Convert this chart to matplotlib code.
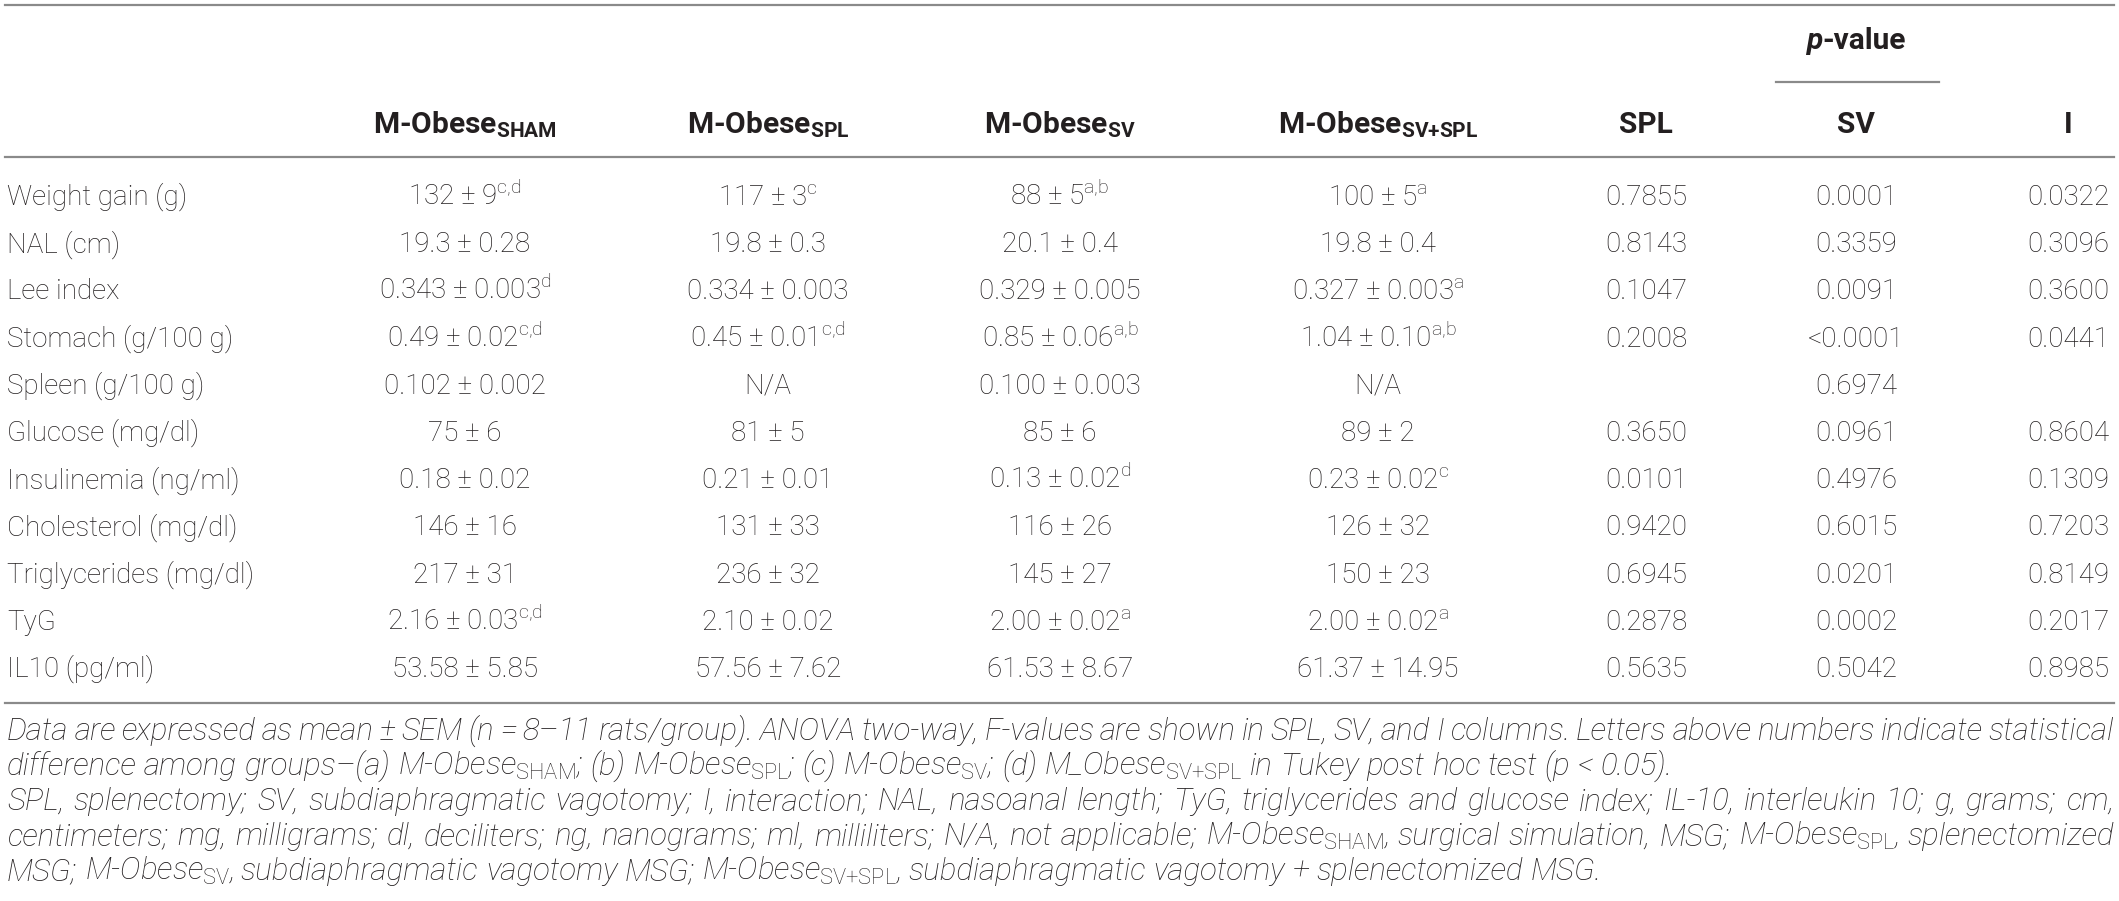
import matplotlib
matplotlib.use("Agg")
import matplotlib.pyplot as plt

FONT = 'Roboto'
plt.rcParams['font.family'] = [FONT, 'Liberation Sans', 'DejaVu Sans']
plt.rcParams['mathtext.fontset'] = 'custom'
plt.rcParams['mathtext.rm'] = FONT + ':light'
plt.rcParams['mathtext.it'] = FONT + ':italic:light'
plt.rcParams['mathtext.bf'] = FONT + ':bold'

# ---- table data ----
row_labels = ["Weight gain (g)", "NAL (cm)", "Lee index", "Stomach (g/100 g)",
              "Spleen (g/100 g)", "Glucose (mg/dl)", "Insulinemia (ng/ml)",
              "Cholesterol (mg/dl)", "Triglycerides (mg/dl)", "TyG", "IL10 (pg/ml)"]
sham = ["132 ± 9^c,d", "19.3 ± 0.28", "0.343 ± 0.003^d", "0.49 ± 0.02^c,d", "0.102 ± 0.002",
        "75 ± 6", "0.18 ± 0.02", "146 ± 16", "217 ± 31", "2.16 ± 0.03^c,d", "53.58 ± 5.85"]
spl = ["117 ± 3^c", "19.8 ± 0.3", "0.334 ± 0.003", "0.45 ± 0.01^c,d", "N/A",
       "81 ± 5", "0.21 ± 0.01", "131 ± 33", "236 ± 32", "2.10 ± 0.02", "57.56 ± 7.62"]
sv = ["88 ± 5^a,b", "20.1 ± 0.4", "0.329 ± 0.005", "0.85 ± 0.06^a,b", "0.100 ± 0.003",
      "85 ± 6", "0.13 ± 0.02^d", "116 ± 26", "145 ± 27", "2.00 ± 0.02^a", "61.53 ± 8.67"]
sv_spl = ["100 ± 5^a", "19.8 ± 0.4", "0.327 ± 0.003^a", "1.04 ± 0.10^a,b", "N/A",
          "89 ± 2", "0.23 ± 0.02^c", "126 ± 32", "150 ± 23", "2.00 ± 0.02^a", "61.37 ± 14.95"]
p_spl = ["0.7855", "0.8143", "0.1047", "0.2008", "", "0.3650", "0.0101", "0.9420",
         "0.6945", "0.2878", "0.5635"]
p_sv = ["0.0001", "0.3359", "0.0091", "<0.0001", "0.6974", "0.0961", "0.4976", "0.6015",
        "0.0201", "0.0002", "0.5042"]
p_i = ["0.0322", "0.3096", "0.3600", "0.0441", "", "0.8604", "0.1309", "0.7203",
       "0.8149", "0.2017", "0.8985"]

headers = ["M-Obese_SHAM", "M-Obese_SPL", "M-Obese_SV", "M-Obese_SV+SPL", "SPL", "SV", "I"]
columns = [sham, spl, sv, sv_spl, p_spl, p_sv, p_i]

notes = [
    "Data are expressed as mean ± SEM (n = 8–11 rats/group). ANOVA two-way, F-values are shown "
    "in SPL, SV, and I columns. Letters above numbers indicate statistical",
    "difference among groups–(a) M-Obese_SHAM; (b) M-Obese_SPL; (c) M-Obese_SV; "
    "(d) M_Obese_SV+SPL in Tukey post hoc test (p < 0.05).",
    "SPL, splenectomy; SV, subdiaphragmatic vagotomy; I, interaction; NAL, nasoanal length; "
    "TyG, triglycerides and glucose index; IL-10, interleukin 10; g, grams; cm,",
    "centimeters; mg, milligrams; dl, deciliters; ng, nanograms; ml, milliliters; N/A, not "
    "applicable; M-Obese_SHAM, surgical simulation, MSG; M-Obese_SPL, splenectomized",
    "MSG; M-Obese_SV, subdiaphragmatic vagotomy MSG; M-Obese_SV+SPL, subdiaphragmatic "
    "vagotomy + splenectomized MSG.",
]
justified = [True, False, True, True, False]

INK = '#231f20'
RULE = '#8a8a8a'
FS = 20
FS_HEAD = 21.5
FS_NOTE = 22.5


def sup(s):
    # "132 ± 9^c,d" -> superscript letters
    if '^' in s:
        a, b = s.split('^')
        return a + r'$^{\rm ' + b.replace(',', '{,}') + '}$'
    return s


def sub(s, bold=False):
    # "M-Obese_SHAM" -> subscript group name
    if 'Obese_' in s:
        a, b = s.split('Obese_', 1)
        tail = ''
        while b and not b[-1].isalnum():
            tail = b[-1] + tail
            b = b[:-1]
        b = b.replace('+', '{+}')
        cmd = r'\mathbf' if bold else r'\mathrm'
        return a + 'Obese$_{' + cmd + '{' + b + '}}$' + tail
    return s


fig = plt.figure(figsize=(21.19, 9.01), dpi=100)
ax = fig.add_axes([0, 0, 1, 1])
ax.set_xlim(0, 2119)
ax.set_ylim(901, 0)
ax.axis('off')
renderer = fig.canvas.get_renderer()

col_x = [465, 768, 1060, 1378, 1646, 1856, 2068]
x_left, x_right = 5, 2114
row_y0, row_dy = 205, 47.2

# rules
ax.plot([x_left, x_right], [5, 5], color=RULE, lw=1.6)
ax.plot([1776, 1939], [82, 82], color=RULE, lw=1.6)
ax.plot([x_left, x_right], [157, 157], color=RULE, lw=1.6)
ax.plot([x_left, x_right], [703, 703], color=RULE, lw=1.6)

# header
tp = ax.text(0, 49, 'p', style='italic', fontweight='bold', fontsize=FS_HEAD, color=INK,
             va='baseline')
tv = ax.text(0, 49, '-value', fontweight='bold', fontsize=FS_HEAD, color=INK, va='baseline')
wp = tp.get_window_extent(renderer).width
wv = tv.get_window_extent(renderer).width
tp.set_x(1856 - (wp + wv) / 2)
tv.set_x(1856 - (wp + wv) / 2 + wp)
for x, h in zip(col_x, headers):
    ax.text(x, 133, sub(h, bold=True), ha='center', va='baseline',
            fontsize=FS_HEAD, fontweight='bold', color=INK)

# body
for i, lab in enumerate(row_labels):
    y = row_y0 + i * row_dy
    ax.text(7, y, lab, ha='left', va='baseline', fontsize=FS, fontweight='light', color=INK)
    for x, col in zip(col_x, columns):
        if col[i]:
            ax.text(x, y, sup(col[i]), ha='center', va='baseline', fontsize=FS,
                    fontweight='light', color=INK)


def space_width(fs):
    a = ax.text(0, 0, 'a a', fontsize=fs, style='italic', fontweight='light')
    b = ax.text(0, 0, 'aa', fontsize=fs, style='italic', fontweight='light')
    w = a.get_window_extent(renderer).width - b.get_window_extent(renderer).width
    a.remove()
    b.remove()
    return w


# footnotes (justified lines spread to full width)
note_y0, note_dy = 740, 35
for k, (line, just) in enumerate(zip(notes, justified)):
    y = note_y0 + k * note_dy
    words = [sub(w) for w in line.split(' ')]
    fs = FS_NOTE
    while True:
        texts = [ax.text(7, y, w, ha='left', va='baseline', fontsize=fs, style='italic',
                         fontweight='light', color=INK) for w in words]
        widths = [t.get_window_extent(renderer).width for t in texts]
        space = space_width(fs)
        gap = (x_right - 7 - sum(widths)) / (len(words) - 1) if just else space
        if gap >= 0.7 * space:
            break
        for t in texts:
            t.remove()
        fs -= 0.25
    x = 7
    for t, w in zip(texts, widths):
        t.set_x(x)
        x += w + gap

fig.savefig('out.png', dpi=100, facecolor='white')
